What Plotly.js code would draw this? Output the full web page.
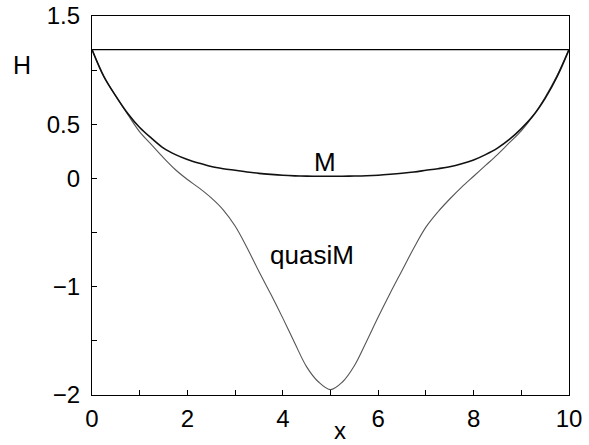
<!DOCTYPE html>
<html>
<head>
<meta charset="utf-8">
<script src="https://cdn.plot.ly/plotly-3.0.1.min.js"></script>
<style>
  html, body { margin: 0; padding: 0; background: #fff; }
  #chart { width: 589px; height: 445px; }
</style>
</head>
<body>
<div id="chart"></div>
<script>
// Sample positions along x
const xs = [0, 0.25, 0.5, 0.75, 1, 1.25, 1.5, 1.75, 2, 2.25, 2.5, 2.75, 3, 3.25, 3.5, 3.75, 4, 4.25, 4.5, 4.75, 5,
            5.25, 5.5, 5.75, 6, 6.25, 6.5, 6.75, 7, 7.25, 7.5, 7.75, 8, 8.25, 8.5, 8.75, 9, 9.25, 9.5, 9.75, 10];

// H along the M solution
const hM = [1.19, 0.94, 0.76, 0.60, 0.47, 0.37, 0.28, 0.22, 0.175, 0.14, 0.11, 0.09, 0.075, 0.06, 0.047, 0.037, 0.029, 0.024, 0.021, 0.02, 0.02,
            0.02, 0.022, 0.025, 0.03, 0.038, 0.048, 0.06, 0.075, 0.09, 0.108, 0.135, 0.17, 0.22, 0.28, 0.36, 0.46, 0.58, 0.74, 0.94, 1.19];

// H along the quasiM solution
const hQuasiM = [1.19, 0.94, 0.76, 0.59, 0.43, 0.31, 0.19, 0.08, -0.01, -0.09, -0.18, -0.29, -0.44, -0.64, -0.86, -1.07, -1.29, -1.52, -1.74, -1.88, -1.95,
                 -1.88, -1.73, -1.51, -1.28, -1.06, -0.85, -0.64, -0.45, -0.31, -0.19, -0.08, 0.02, 0.12, 0.22, 0.33, 0.44, 0.58, 0.75, 0.95, 1.19];

// Constant level drawn across the whole range
const levelX = [0, 10];
const levelH = [1.19, 1.19];

// Axis ticks
const xTickVals = [0, 1, 2, 3, 4, 5, 6, 7, 8, 9, 10];
const xTickText = ['0', '', '2', '', '4', '', '6', '', '8', '', '10'];
const yTickVals = [-2, -1.5, -1, -0.5, 0, 0.5, 1, 1.5];
const yTickText = ['\u22122', '', '\u22121', '', '0', '0.5', '', '1.5'];

const font = 'Liberation Sans, Arial, Helvetica, sans-serif';

const traces = [
  { x: levelX, y: levelH, mode: 'lines', line: { color: '#000', width: 1.2 }, hoverinfo: 'skip' },
  { x: xs, y: hQuasiM, mode: 'lines', line: { color: '#555', width: 1.1, shape: 'spline', smoothing: 1 } },
  { x: xs, y: hM, mode: 'lines', line: { color: '#111', width: 1.6, shape: 'spline', smoothing: 1 } }
];

const axisCommon = {
  showline: true, linecolor: '#000', linewidth: 1.2, mirror: true,
  ticks: 'inside', ticklen: 5, tickwidth: 1, tickcolor: '#000',
  showgrid: false, zeroline: false,
  tickfont: { family: font, size: 24, color: '#000' }
};

const layout = {
  width: 589, height: 445,
  margin: { l: 92, r: 20, t: 16, b: 50 },
  paper_bgcolor: '#fff', plot_bgcolor: '#fff',
  showlegend: false,
  xaxis: Object.assign({}, axisCommon, {
    range: [0, 10], tickmode: 'array', tickvals: xTickVals, ticktext: xTickText,
    ticklabelstandoff: 2
  }),
  yaxis: Object.assign({}, axisCommon, {
    range: [-2, 1.5], tickmode: 'array', tickvals: yTickVals, ticktext: yTickText,
    ticklabelstandoff: 6
  }),
  annotations: [
    { text: 'M', x: 4.88, y: 0.15, xref: 'x', yref: 'y', showarrow: false,
      xanchor: 'center', yanchor: 'middle',
      font: { family: font, size: 26, color: '#000' } },
    { text: 'quasiM', x: 4.61, y: -0.71, xref: 'x', yref: 'y', showarrow: false,
      xanchor: 'center', yanchor: 'middle',
      font: { family: font, size: 26, color: '#000' } },
    { text: 'H', x: -0.147, y: 0.872, xref: 'paper', yref: 'paper', showarrow: false,
      xanchor: 'center', yanchor: 'middle',
      font: { family: font, size: 25, color: '#000' } },
    { text: 'x', x: 0.52, y: -0.132, xref: 'paper', yref: 'paper', showarrow: false,
      xanchor: 'center', yanchor: 'bottom', borderpad: 0,
      font: { family: font, size: 24, color: '#000' } }
  ]
};

Plotly.newPlot('chart', traces, layout, { staticPlot: true, displayModeBar: false });
</script>
</body>
</html>
